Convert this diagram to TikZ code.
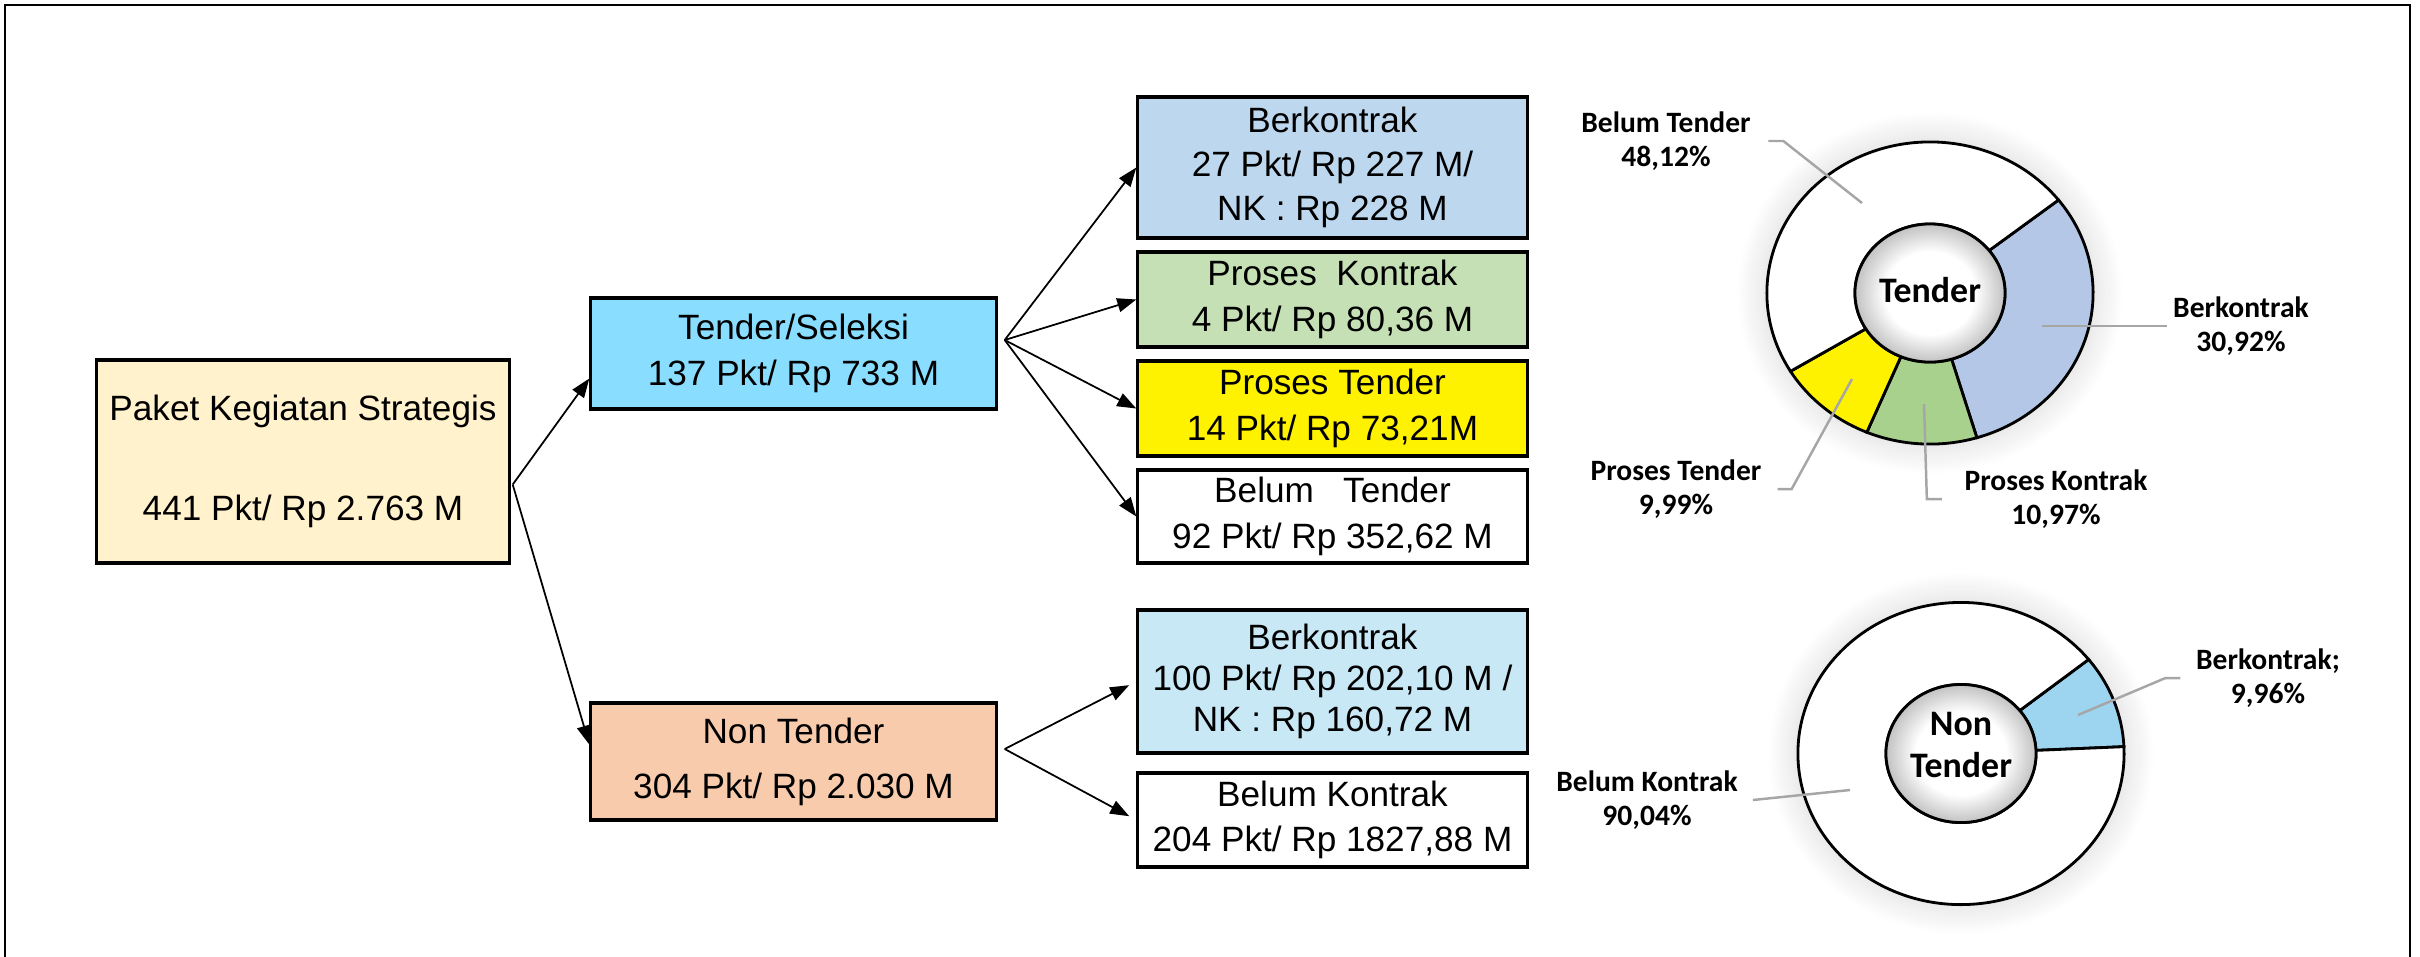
\documentclass[tikz,border=0pt]{standalone}
\usepackage{fontspec}
\setmainfont{Liberation Sans}
\newfontfamily\chartfont{Carlito}
\usetikzlibrary{arrows.meta,shadows.blur}

\definecolor{paketfill}{HTML}{FFF2CC}
\definecolor{seleksifill}{HTML}{89DEFF}
\definecolor{kontrakfill}{HTML}{BDD7EE}
\definecolor{proskontrakfill}{HTML}{C5E0B4}
\definecolor{nontenderfill}{HTML}{F8CBAD}
\definecolor{ntkontrakfill}{HTML}{C8E8F6}
\definecolor{sliceblue}{HTML}{B4C7E7}
\definecolor{slicegreen}{HTML}{A9D18E}
\definecolor{slicesky}{HTML}{9DD5F1}
\definecolor{leadergray}{HTML}{A6A6A6}

% hub of the ring charts: white in the middle, grey at the rim
\pgfdeclareradialshading{hubshade}{\pgfpointorigin}{color(0bp)=(white); color(15bp)=(white); color(25bp)=(black!24); color(50bp)=(black!24)}

% one slice of a ring chart: start angle, end angle, fill
\newcommand{\donutpart}[3]{%
  \filldraw[fill=#3, draw=black, line width=0.8pt]
    (#1:1.63cm and 1.51cm) arc[start angle=#1, end angle=#2, x radius=1.63cm, y radius=1.51cm]
    -- (#2:0.75cm and 0.69cm) arc[start angle=#2, end angle=#1, x radius=0.75cm, y radius=0.69cm] -- cycle;}

\begin{document}
\begin{tikzpicture}[x=0.01cm, y=0.01cm,
  box/.style={draw=black, line width=0.9pt, minimum width=3.89cm, align=center, inner sep=0pt, font=\fontsize{10}{13}\selectfont},
  arr/.style={-{Triangle[length=0.19cm, width=0.14cm]}, line width=0.5pt},
  leader/.style={draw=leadergray, line width=0.7pt},
  pielabel/.style={align=center, inner sep=0pt, font=\chartfont\bfseries\fontsize{8.4}{9.7}\selectfont},
  hublabel/.style={align=center, inner sep=0pt, font=\chartfont\bfseries\fontsize{10.2}{12}\selectfont},
  glow/.style={blur shadow={shadow xshift=0pt, shadow yshift=0pt, shadow blur radius=0.3cm, shadow blur steps=12, shadow opacity=18}}]
\useasboundingbox (0,0) rectangle (2420,-956);
% frame, open at the bottom
\draw[line width=0.7pt] (5,-960) -- (5,-5) -- (2410,-5) -- (2410,-960);

\node[box, fill=paketfill, minimum width=4.12cm, minimum height=2.03cm] (paket) at (303,-461.5) {Paket Kegiatan Strategis\\[15.4pt]441 Pkt/ Rp 2.763 M};
\node[box, fill=seleksifill, minimum width=4.05cm, minimum height=1.11cm] (seleksi) at (793.5,-353.5) {Tender/Seleksi\\137 Pkt/ Rp 733 M};
\node[box, fill=nontenderfill, minimum width=4.05cm, minimum height=1.17cm] (nontender) at (793.5,-761.5) {Non Tender\\[2.6pt]304 Pkt/ Rp 2.030 M};

\node[box, fill=kontrakfill, minimum height=1.41cm, font=\fontsize{10}{12.5}\selectfont] (kontrak) at (1332.5,-167.5) {Berkontrak\\27 Pkt/ Rp 227 M/\\NK : Rp 228 M};
\node[box, fill=proskontrakfill, minimum height=0.95cm] (proskontrak) at (1332.5,-299.5) {Proses\ \ Kontrak\\4 Pkt/ Rp 80,36 M};
\node[box, fill=yellow, minimum height=0.95cm] (prostender) at (1332.5,-408.5) {Proses Tender\\14 Pkt/ Rp 73,21M};
\node[box, fill=white, minimum height=0.93cm] (belumtender) at (1332.5,-516.5) {Belum\ \ \ Tender\\92 Pkt/ Rp 352,62 M};
\node[box, fill=ntkontrakfill, minimum height=1.43cm, font=\fontsize{10}{11.6}\selectfont] (ntkontrak) at (1332.5,-681.5) {Berkontrak\\100 Pkt/ Rp 202,10 M /\\NK : Rp 160,72 M};
\node[box, fill=white, minimum height=0.94cm] (ntbelum) at (1332.5,-820) {Belum Kontrak\\204 Pkt/ Rp 1827,88 M};

% branches
\coordinate (psplit) at ([xshift=0.02cm, yshift=-0.23cm]paket.east);
\draw[arr] (psplit) -- ([yshift=-0.25cm]seleksi.west);
\draw[arr] (psplit) -- ([yshift=0.17cm]nontender.west);
\coordinate (ssplit) at ([xshift=0.07cm, yshift=0.135cm]seleksi.east);
\draw[arr] (ssplit) -- (kontrak.west);
\draw[arr] (ssplit) -- (proskontrak.west);
\draw[arr] (ssplit) -- (prostender.west);
\draw[arr] (ssplit) -- (belumtender.west);
\coordinate (nsplit) at ([xshift=0.07cm, yshift=0.125cm]nontender.east);
\draw[arr, shorten >=0.08cm] (nsplit) -- (ntkontrak.west);
\draw[arr, shorten >=0.08cm] (nsplit) -- (ntbelum.west);

% Tender ring
\begin{scope}[shift={(1930,-293)}]
  \fill[white, glow] (0,0) ellipse [x radius=1.63cm, y radius=1.51cm];
  \donutpart{38}{-73.3}{sliceblue}
  \donutpart{-73.3}{-112.8}{slicegreen}
  \donutpart{-112.8}{-148.8}{yellow}
  \donutpart{-148.8}{-322}{white}
  \shade[shading=hubshade] (0,0) ellipse [x radius=0.75cm, y radius=0.69cm];
  \draw[line width=0.8pt] (0,0) ellipse [x radius=0.75cm, y radius=0.69cm];
\end{scope}
\node[hublabel] (thub) at (1930,-290) {Tender};

\node[pielabel] (lbelum) at (1666,-141) {Belum Tender\\48,12\%};
\node[pielabel] (lkontrak) at (2241,-326) {Berkontrak\\30,92\%};
\node[pielabel] (lprostender) at (1676,-489) {Proses Tender\\9,99\%};
\node[pielabel] (lproskontrak) at (2056,-499) {Proses Kontrak\\10,97\%};
\coordinate (sbelum) at (1862,-203);
\coordinate (skontrak) at (2042,-326);
\coordinate (sprostender) at (1852,-379);
\coordinate (sproskontrak) at (1924,-404);
\draw[leader] ([xshift=0.17cm]lbelum.east) -- ++(0.15cm,0) -- (sbelum);
\draw[leader] ([xshift=-0.06cm]lkontrak.west) -- (skontrak);
\draw[leader] ([xshift=0.155cm]lprostender.east) -- ++(0.14cm,0) -- (sprostender);
\draw[leader] ([xshift=-0.22cm]lproskontrak.west) -- ++(-0.15cm,0) -- (sproskontrak);

% Non Tender ring
\begin{scope}[shift={(1961,-753.5)}]
  \fill[white, glow] (0,0) ellipse [x radius=1.63cm, y radius=1.51cm];
  \donutpart{38.5}{2.6}{slicesky}
  \donutpart{2.6}{-321.5}{white}
  \shade[shading=hubshade] (0,0) ellipse [x radius=0.75cm, y radius=0.69cm];
  \draw[line width=0.8pt] (0,0) ellipse [x radius=0.75cm, y radius=0.69cm];
\end{scope}
\node[hublabel] (nhub) at (1961,-745) {Non\\Tender};

\node[pielabel] (lntkontrak) at (2268,-678) {Berkontrak;\\9,96\%};
\node[pielabel] (lntbelum) at (1647,-800) {Belum Kontrak\\90,04\%};
\coordinate (sntkontrak) at (2078,-715);
\coordinate (sntbelum) at (1850,-790);
\draw[leader] ([xshift=-0.15cm]lntkontrak.west) -- ++(-0.15cm,0) -- (sntkontrak);
\draw[leader] ([xshift=0.145cm]lntbelum.east) -- (sntbelum);
\end{tikzpicture}
\end{document}
